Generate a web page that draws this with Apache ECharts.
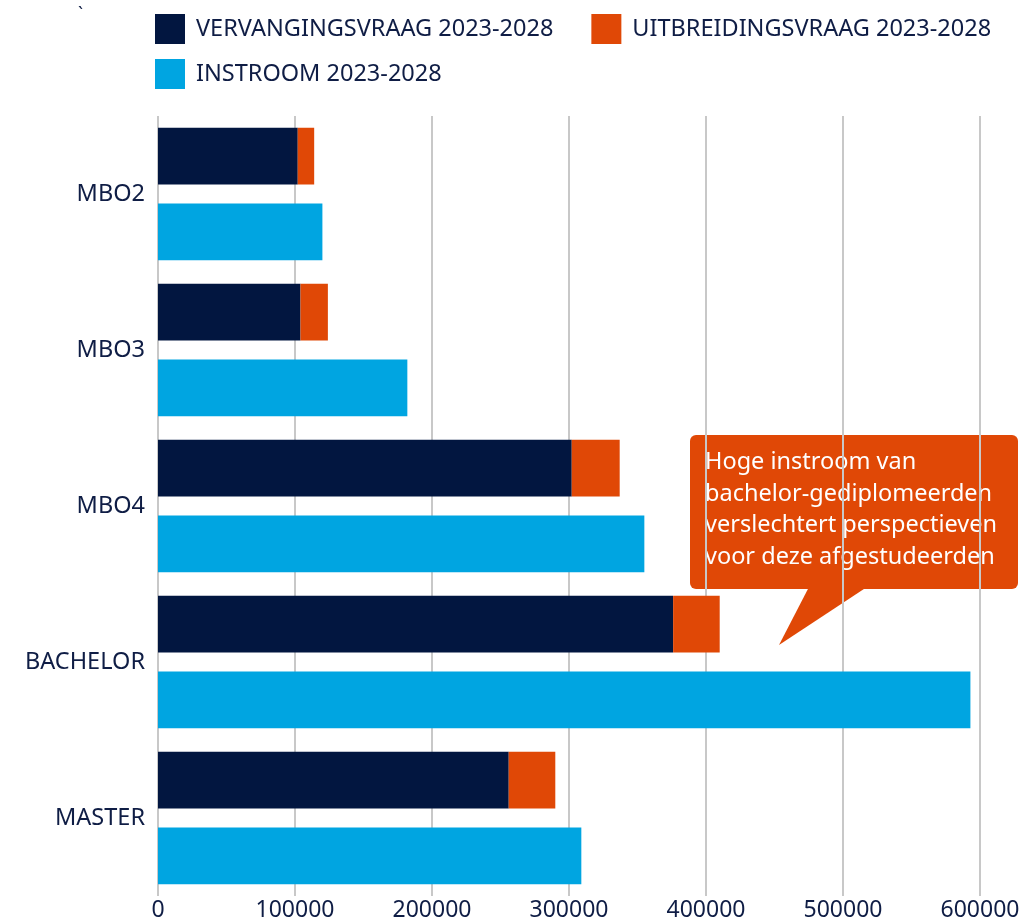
<!DOCTYPE html>
<html>
<head>
<meta charset="utf-8">
<script src="https://cdn.jsdelivr.net/npm/echarts@6/dist/echarts.min.js"></script>
<style>
  html, body { margin: 0; padding: 0; background: #ffffff; }
  #chart { width: 1027px; height: 922px; }
</style>
</head>
<body>
<div id="chart"></div>
<script>
// Opleidingsniveaus (van boven naar beneden)
const categories = ['MBO2', 'MBO3', 'MBO4', 'BACHELOR', 'MASTER'];

// Vraag en instroom per niveau, 2023-2028
const vervangingsvraag = [102000, 104000, 302000, 376000, 256000];
const uitbreidingsvraag = [12000, 20000, 35000, 34000, 34000];
const instroom = [120000, 182000, 355000, 593000, 309000];

const seriesNames = ['VERVANGINGSVRAAG 2023-2028', 'UITBREIDINGSVRAAG 2023-2028', 'INSTROOM 2023-2028'];
const calloutLines = [
  'Hoge instroom van',
  'bachelor-gediplomeerden',
  'verslechtert perspectieven',
  'voor deze afgestudeerden'
];

const NAVY = '#021640';
const ORANGE = '#e04806';
const BLUE = '#00a5e1';
const TEXT = '#0f1d45';
const FONT = 'Noto Sans';

const chart = echarts.init(document.getElementById('chart'), null, { renderer: 'canvas' });

const legendText = {
  color: TEXT, fontFamily: FONT, fontSize: 23.5, padding: [0, 0, 0, 6]
};

const option = {
  animation: false,
  backgroundColor: '#ffffff',
  textStyle: { fontFamily: FONT },
  legend: [
    {
      data: [seriesNames[0], seriesNames[1]],
      left: 150, top: 9,
      icon: 'rect', itemWidth: 30, itemHeight: 30, itemGap: 38,
      textStyle: legendText, selectedMode: false
    },
    {
      data: [seriesNames[2]],
      left: 150, top: 54,
      icon: 'rect', itemWidth: 30, itemHeight: 30,
      textStyle: legendText, selectedMode: false
    }
  ],
  grid: { left: 158, right: 47, top: 116, bottom: 26, containLabel: false },
  xAxis: {
    type: 'value',
    min: 0, max: 600000, interval: 100000,
    axisLine: { show: false },
    axisTick: { show: false },
    splitLine: { show: true, lineStyle: { color: '#c8c8c8', width: 2 } },
    axisLabel: {
      color: TEXT, fontFamily: FONT, fontSize: 23, margin: 3,
      formatter: (v) => String(v)
    }
  },
  yAxis: {
    type: 'category',
    data: categories,
    inverse: true,
    axisLine: { show: false },
    axisTick: { show: false },
    axisLabel: { color: TEXT, fontFamily: FONT, fontSize: 23.5, margin: 13 }
  },
  series: [
    {
      name: seriesNames[0], type: 'bar', stack: 'vraag',
      data: vervangingsvraag, itemStyle: { color: NAVY },
      barCategoryGap: '15%', barGap: '33%'
    },
    {
      name: seriesNames[1], type: 'bar', stack: 'vraag',
      data: uitbreidingsvraag, itemStyle: { color: ORANGE }
    },
    {
      name: seriesNames[2], type: 'bar',
      data: instroom, itemStyle: { color: BLUE }
    }
  ],
  graphic: [
    { type: 'text', left: 78, top: 6, style: { text: '`', fill: TEXT, font: '18px "Noto Sans"' } },
    {
      type: 'group',
      children: [
        {
          type: 'polygon',
          shape: { points: [[810, 585], [870, 585], [779, 645]] },
          style: { fill: ORANGE }
        },
        {
          type: 'rect',
          shape: { x: 690, y: 435, width: 328, height: 154, r: 6 },
          style: { fill: ORANGE }
        },
        {
          type: 'text',
          x: 705, y: 447,
          style: {
            text: calloutLines.join('\n'),
            fill: '#ffffff',
            font: '23.5px "Noto Sans"',
            lineHeight: 31.5
          }
        }
      ]
    }
  ]
};

chart.setOption(option);
</script>
</body>
</html>
